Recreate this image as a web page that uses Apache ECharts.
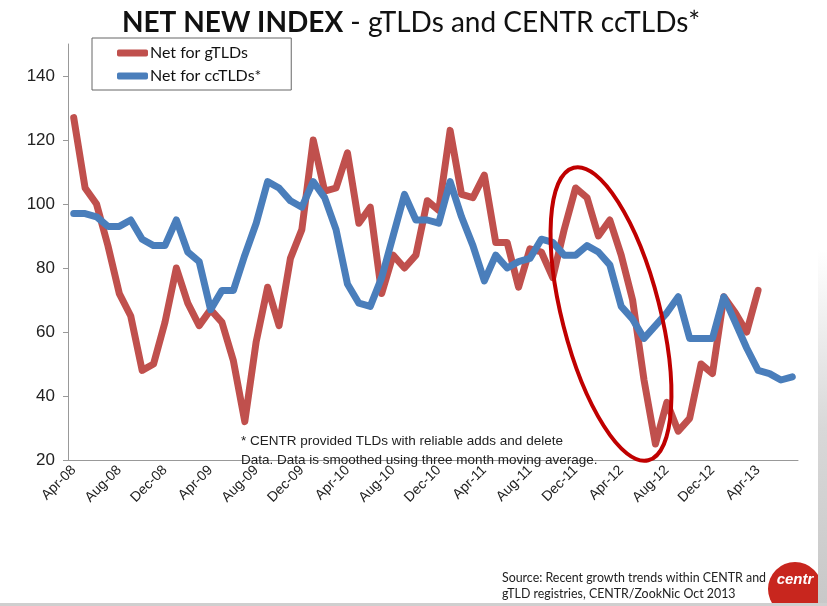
<!DOCTYPE html>
<html>
<head>
<meta charset="utf-8">
<script src="https://cdn.jsdelivr.net/npm/echarts@6/dist/echarts.min.js"></script>
<style>
  html, body { margin: 0; padding: 0; background: #fff; }
  #chart { width: 827px; height: 606px; }
</style>
</head>
<body>
<div id="chart"></div>
<script>
// months Apr-08 .. Jul-13
const meses = [
  "Apr-08","May-08","Jun-08","Jul-08","Aug-08","Sep-08","Oct-08","Nov-08","Dec-08","Jan-09","Feb-09","Mar-09",
  "Apr-09","May-09","Jun-09","Jul-09","Aug-09","Sep-09","Oct-09","Nov-09","Dec-09","Jan-10","Feb-10","Mar-10",
  "Apr-10","May-10","Jun-10","Jul-10","Aug-10","Sep-10","Oct-10","Nov-10","Dec-10","Jan-11","Feb-11","Mar-11",
  "Apr-11","May-11","Jun-11","Jul-11","Aug-11","Sep-11","Oct-11","Nov-11","Dec-11","Jan-12","Feb-12","Mar-12",
  "Apr-12","May-12","Jun-12","Jul-12","Aug-12","Sep-12","Oct-12","Nov-12","Dec-12","Jan-13","Feb-13","Mar-13",
  "Apr-13","May-13","Jun-13","Jul-13"
];

const netGtlds = [
  127, 105, 100, 87, 72, 65, 48, 50, 63, 80, 69, 62,
  67, 63, 51, 32, 57, 74, 62, 83, 92, 120, 104, 105,
  116, 94, 99, 72, 84, 80, 84, 101, 98, 123, 103, 102,
  109, 88, 88, 74, 86, 85, 77, 92, 105, 102, 90, 95,
  84, 70, 45, 25, 38, 29, 33, 50, 47, 71, 66, 60,
  73, null, null, null
];

const netCctlds = [
  97, 97, 96, 93, 93, 95, 89, 87, 87, 95, 85, 82,
  67, 73, 73, 84, 94, 107, 105, 101, 99, 107, 102, 92,
  75, 69, 68, 77, 90, 103, 95, 95, 94, 107, 96, 87,
  76, 84, 80, 82, 83, 89, 88, 84, 84, 87, 85, 81,
  68, 64, 58, 62, 66, 71, 58, 58, 58, 71, 63, 55,
  48, 47, 45, 46
];

const nombres = ["Net for gTLDs", "Net for ccTLDs*"];

function dibujarGrafico() {
  const chart = echarts.init(document.getElementById("chart"));

  const option = {
    backgroundColor: "#fff",
    animation: false,
    title: {
      text: "{b|NET NEW INDEX} - gTLDs and CENTR ccTLDs*",
      left: 406,
      textAlign: "center",
      top: 4,
      textStyle: {
        fontFamily: "Lato",
        fontSize: 28,
        fontWeight: "normal",
        color: "#111",
        rich: {
          b: { fontFamily: "Lato", fontSize: 28, fontWeight: "bold", color: "#111" }
        }
      }
    },
    legend: {
      orient: "vertical",
      left: 92,
      top: 38,
      padding: [7, 30, 6, 25],
      itemGap: 7,
      itemWidth: 31,
      itemHeight: 7,
      icon: "roundRect",
      borderColor: "#666",
      borderWidth: 1,
      textStyle: { fontFamily: "Lato", fontSize: 16, color: "#111", padding: [0, 0, 0, -3] },
      data: nombres
    },
    grid: { left: 68, right: 29, top: 44, bottom: 146, containLabel: false },
    xAxis: {
      type: "category",
      data: meses,
      boundaryGap: true,
      axisLine: { lineStyle: { color: "#999" } },
      axisTick: { interval: 0, length: 5, lineStyle: { color: "#999" } },
      axisLabel: {
        interval: 3,
        rotate: 45,
        fontFamily: "Liberation Sans",
        fontSize: 14,
        color: "#222",
        margin: 8
      }
    },
    yAxis: {
      type: "value",
      min: 20,
      max: 150,
      interval: 20,
      axisLine: { show: true, lineStyle: { color: "#999" } },
      axisTick: { show: true, length: 5, lineStyle: { color: "#999" } },
      splitLine: { show: false },
      axisLabel: {
        showMaxLabel: false,
        fontFamily: "Liberation Sans",
        fontSize: 17,
        color: "#222",
        margin: 13
      }
    },
    series: [
      {
        name: nombres[0],
        type: "line",
        data: netGtlds,
        symbol: "none",
        lineStyle: { color: "#c0504d", width: 7, join: "round", cap: "round" },
        itemStyle: { color: "#c0504d" },
        z: 2
      },
      {
        name: nombres[1],
        type: "line",
        data: netCctlds,
        symbol: "none",
        lineStyle: { color: "#4a7ebb", width: 7, join: "round", cap: "round" },
        itemStyle: { color: "#4a7ebb" },
        z: 3
      }
    ],
    graphic: [
      {
        type: "ellipse",
        x: 611,
        y: 314,
        rotation: 0.25,
        shape: { cx: 0, cy: 0, rx: 49, ry: 151 },
        style: { fill: "none", stroke: "#c00000", lineWidth: 4 },
        z: 10
      },
      {
        type: "text",
        left: 241,
        top: 432,
        style: {
          text: "* CENTR provided TLDs with reliable adds and delete\nData. Data is smoothed using three month moving average.",
          font: "13.5px 'Liberation Sans'",
          fill: "#222",
          lineHeight: 19
        },
        z: 5
      },
      {
        type: "text",
        left: 502,
        top: 570,
        style: {
          text: "Source: Recent growth trends within CENTR and\ngTLD registries, CENTR/ZookNic Oct 2013",
          font: "12.4px Lato",
          fill: "#222",
          lineHeight: 16
        }
      },
      {
        type: "circle",
        shape: { cx: 795, cy: 589, r: 27 },
        style: { fill: "#c8261e" }
      },
      {
        type: "text",
        x: 795,
        y: 580,
        style: {
          text: "centr",
          font: "italic bold 15px 'Liberation Sans'",
          fill: "#fff",
          align: "center",
          verticalAlign: "middle"
        }
      },
      {
        type: "rect",
        shape: { x: 818, y: 250, width: 9, height: 356 },
        style: {
          fill: new echarts.graphic.LinearGradient(0, 0, 0, 1, [
            { offset: 0, color: "#ffffff" },
            { offset: 0.5, color: "#d8d8d8" },
            { offset: 1, color: "#c8c8c8" }
          ])
        }
      },
      {
        type: "rect",
        shape: { x: 0, y: 603, width: 827, height: 3 },
        style: { fill: "#cfcfcf" }
      }
    ]
  };

  chart.setOption(option);
  window.addEventListener("resize", () => chart.resize());
}

document.addEventListener("DOMContentLoaded", dibujarGrafico);
</script>
</body>
</html>
